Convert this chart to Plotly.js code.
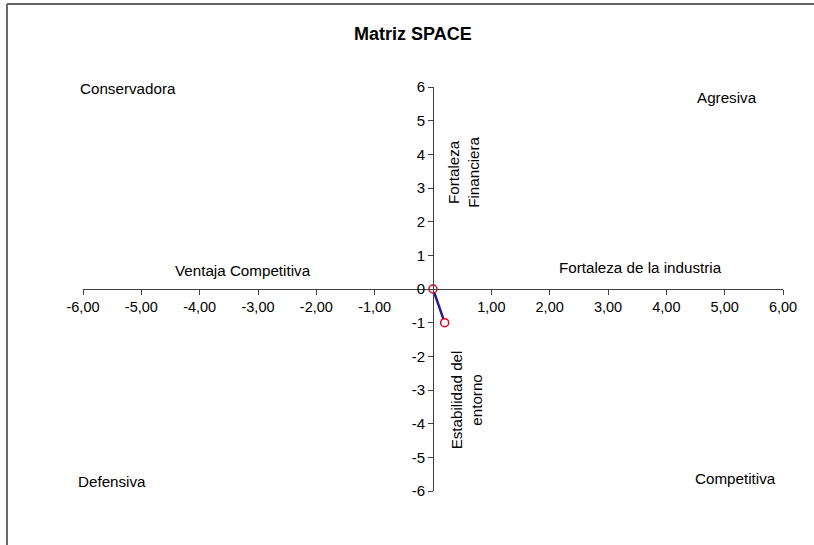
<!DOCTYPE html>
<html>
<head>
<meta charset="utf-8">
<script src="https://cdn.plot.ly/plotly-3.0.1.min.js"></script>
<style>html,body{margin:0;padding:0;background:#fff;}#chart{width:814px;height:545px;}</style>
</head>
<body>
<div id="chart"></div>
<script>
// Data
const pointX = [0, 0.2];
const pointY = [0, -1];
const xTickVals = [-6, -5, -4, -3, -2, -1, 1, 2, 3, 4, 5, 6];
const yTickVals = [-6, -5, -4, -3, -2, -1, 0, 1, 2, 3, 4, 5, 6];
const quadrantLabels = ['Conservadora', 'Agresiva', 'Defensiva', 'Competitiva'];
const axisLabels = ['Ventaja Competitiva', 'Fortaleza de la industria', 'Fortaleza<br>Financiera', 'Estabilidad del<br>entorno'];
const chartTitle = 'Matriz SPACE';

const FONT = 'Liberation Sans, Arial, sans-serif';
const txt = {family: FONT, size: 15.2, color: '#000'};

const xTickText = xTickVals.map(v => v.toFixed(2).replace('.', ','));
const yTickText = yTickVals.map(v => String(v));

const trace = {
  x: pointX, y: pointY, type: 'scatter', mode: 'lines+markers',
  line: {color: '#2a1a96', width: 2.5},
  marker: {symbol: 'circle', size: 8, color: '#ffffff', line: {color: '#e8001c', width: 1.5}},
  cliponaxis: false, hoverinfo: 'skip', showlegend: false
};

function ann(text, x, y, extra) {
  return Object.assign({text: text, x: x, y: y, xref: 'x', yref: 'y', showarrow: false, font: txt}, extra || {});
}

const layout = {
  width: 814, height: 545,
  margin: {l: 83, r: 31, t: 87, b: 54, pad: 0},
  paper_bgcolor: '#ffffff', plot_bgcolor: 'rgba(0,0,0,0)',
  showlegend: false,
  xaxis: {
    range: [-6, 6], anchor: 'free', position: 0.5,
    tickvals: xTickVals, ticktext: xTickText,
    ticks: 'outside', ticklen: 5, tickcolor: '#404040', tickwidth: 1,
    showline: true, linecolor: '#404040', linewidth: 1,
    showgrid: false, zeroline: false, fixedrange: true,
    tickfont: {family: FONT, size: 14.5, color: '#000'}
  },
  yaxis: {
    range: [-6, 6], anchor: 'free', position: 0.5,
    tickvals: yTickVals, ticktext: yTickText,
    ticks: 'outside', ticklen: 5, tickcolor: '#404040', tickwidth: 1,
    showline: true, linecolor: '#404040', linewidth: 1,
    showgrid: false, zeroline: false, fixedrange: true,
    tickfont: {family: FONT, size: 15, color: '#000'}
  },
  annotations: [
    {text: '<b>' + chartTitle + '</b>', xref: 'paper', yref: 'paper', x: 0.4714, y: 1.131,
     xanchor: 'center', yanchor: 'middle', showarrow: false,
     font: {family: FONT, size: 18, color: '#000'}},
    ann(quadrantLabels[0], -5.23, 5.97),
    ann(quadrantLabels[1], 5.04, 5.70),
    ann(quadrantLabels[2], -5.51, -5.73),
    ann(quadrantLabels[3], 5.18, -5.64),
    ann(axisLabels[0], -3.26, 0.56),
    ann(axisLabels[1], 3.55, 0.65),
    ann(axisLabels[2], 0.52, 3.46, {textangle: -90}),
    ann(axisLabels[3], 0.57, -3.30, {textangle: -90})
  ],
  shapes: [
    {type: 'line', xref: 'paper', yref: 'paper', x0: -0.1086, x1: 1.06, y0: 1.2054, y1: 1.2054, line: {color: '#666666', width: 2}},
    {type: 'line', xref: 'paper', yref: 'paper', x0: -0.1086, x1: -0.1086, y0: 1.2054, y1: -0.15, line: {color: '#666666', width: 2}}
  ]
};

Plotly.newPlot('chart', [trace], layout, {displayModeBar: false, staticPlot: true});
</script>
</body>
</html>
